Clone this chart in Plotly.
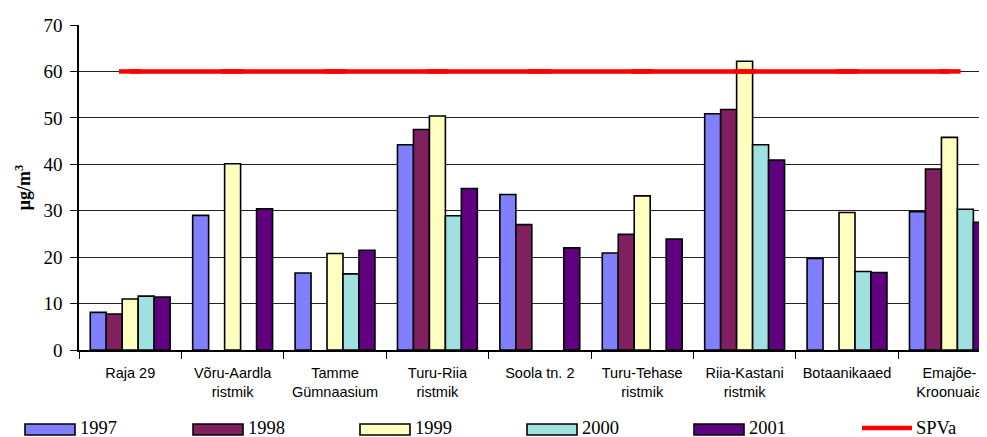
import plotly.graph_objects as go

categories = ["Raja 29", "Võru-Aardla<br>ristmik", "Tamme<br>Gümnaasium", "Turu-Riia<br>ristmik",
              "Soola tn. 2", "Turu-Tehase<br>ristmik", "Riia-Kastani<br>ristmik", "Botaanikaaed",
              "Emajõe-<br>Kroonuaia"]
v1997 = [8.1, 29.0, 16.6, 44.2, 33.5, 20.9, 50.9, 19.7, 29.8]
v1998 = [7.75, None, None, 47.5, 27.0, 24.9, 51.8, None, 39.0]
v1999 = [11.0, 40.1, 20.8, 50.4, None, 33.2, 62.2, 29.6, 45.8]
v2000 = [11.6, None, 16.4, 28.9, None, None, 44.2, 16.9, 30.3]
v2001 = [11.4, 30.4, 21.5, 34.8, 22.0, 23.9, 40.9, 16.7, 27.5]
spva = [60] * len(categories)
years = ["1997", "1998", "1999", "2000", "2001"]
colors = ["#8080FF", "#802060", "#FFFFC0", "#A0E0E0", "#600080"]
series = [v1997, v1998, v1999, v2000, v2001]

# page has an 8px body margin; compensate so the plot lands where the reference has it
OFF = 8
W, H = 987, 437
L, T = 79 - OFF, 25 - OFF
R = OFF
B = H - (350 - OFF)
PW = W - L - R
PH = H - T - B

fig = go.Figure()
for name, vals, col in zip(years, series, colors):
    fig.add_trace(go.Bar(x=categories, y=vals, name=name, marker=dict(color=col, line=dict(color="black", width=1.6)),
                         showlegend=False, hoverinfo="skip"))
fig.add_trace(go.Scatter(x=categories, y=spva, name="SPVa", mode="lines+markers",
                         line=dict(color="#FF0000", width=4.5),
                         marker=dict(symbol="line-ew", size=16, color="#FF0000", line=dict(width=4.5, color="#FF0000")),
                         showlegend=False, hoverinfo="skip"))

def px(x):
    return (x - OFF - L) / PW

def py(y):
    return (H - B - (y - OFF)) / PH

shapes = []
annotations = []
legend_x = [25, 193, 360, 527, 694]
for lx, name, col in zip(legend_x, years, colors):
    shapes.append(dict(type="rect", xref="paper", yref="paper", x0=px(lx), x1=px(lx + 50), y0=py(435), y1=py(424),
                       fillcolor=col, line=dict(color="black", width=1.6)))
    annotations.append(dict(xref="paper", yref="paper", x=px(lx + 53), y=py(428), text=name, showarrow=False,
                            xanchor="left", yanchor="middle", font=dict(family="Liberation Serif", size=18.5, color="black")))
shapes.append(dict(type="line", xref="paper", yref="paper", x0=px(862), x1=px(912), y0=py(428), y1=py(428),
                   line=dict(color="#FF0000", width=4.5)))
annotations.append(dict(xref="paper", yref="paper", x=px(914), y=py(428), text="SPVa", showarrow=False,
                        xanchor="left", yanchor="middle", font=dict(family="Liberation Serif", size=18.5, color="black")))

fig.update_layout(
    width=W, height=H,
    margin=dict(l=L, r=R, t=T, b=B),
    paper_bgcolor="white", plot_bgcolor="white",
    barmode="group", bargap=0.22, bargroupgap=0,
    shapes=shapes, annotations=annotations,
    xaxis=dict(type="category", range=[-0.5, 8.367], tickson="boundaries", ticks="outside", ticklen=7,
               tickcolor="black", showline=True, linecolor="black", linewidth=1.5, showgrid=False,
               ticklabelstandoff=9,
               tickfont=dict(family="Liberation Sans", size=14.5, color="black"), tickangle=0),
    yaxis=dict(range=[0, 70], dtick=10, ticks="outside", ticklen=7, tickcolor="black", showline=True,
               linecolor="black", linewidth=1.5, showgrid=True, gridcolor="#222222", gridwidth=1,
               zeroline=False, ticklabelstandoff=4,
               tickfont=dict(family="Liberation Serif", size=19, color="black"),
               title=dict(text="<b>μg/m<sup>3</sup></b>", standoff=8,
                          font=dict(family="Liberation Serif", size=18, color="black"))),
)

fig.write_html("out.html")
